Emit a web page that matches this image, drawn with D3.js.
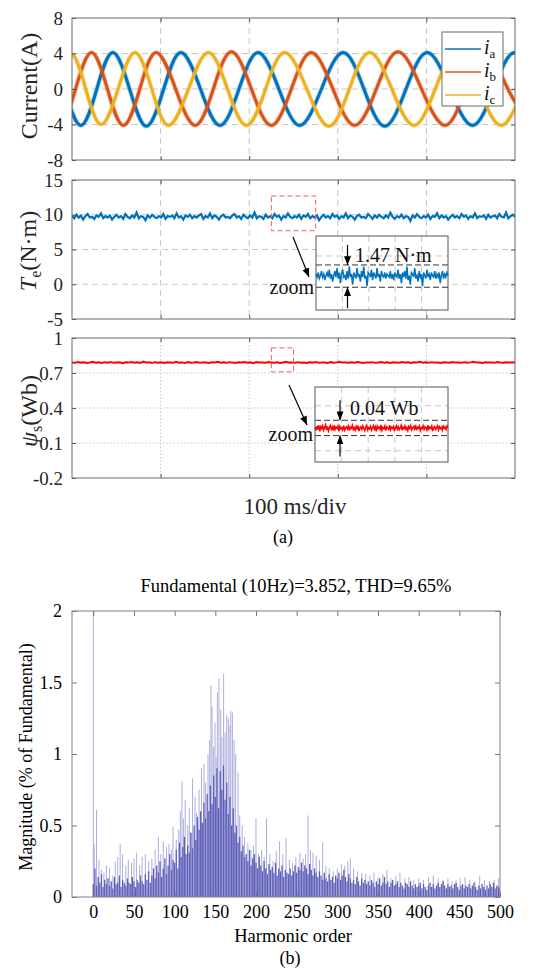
<!DOCTYPE html>
<html><head><meta charset="utf-8">
<script src="https://cdn.jsdelivr.net/npm/d3@7"></script>
<style>body{margin:0;background:#fff} svg{display:block}</style>
</head><body>
<svg id="c" width="552" height="970"></svg>
<script>
// ================= DATA =================
const timeGridTicks = [100, 200, 300, 400];
const currentTicks = [8, 4, 0, -4, -8];
const torqueTicks = [15, 10, 5, 0, -5];
const fluxTicks = [1, 0.7, 0.4, 0.1, -0.2];

// phase currents: [time ms] and [value A] read at extrema and zero crossings
const iaTimes = [-64, -45.5, -27, -8.5, 10, 28, 46, 65, 84, 103.5, 123, 145, 167, 188.5, 210, 233.5, 257, 281.5, 306, 329.5, 353, 377, 401, 426.5, 452, 476, 500, 524, 548];
const iaValues = [-4, 0, 4, 0, -4.1, 0, 4.1, 0, -4.2, 0, 4.1, 0, -4.1, 0, 4.1, 0, -4.1, 0, 4.1, 0, -4.2, 0, 4.1, 0, -4.1, 0, 4.1, 0, -4];
const ibTimes = [-50, -32, -14, 4, 22, 40, 58, 76.5, 95, 117, 139, 159.5, 180, 202.5, 225, 247.5, 270, 294.5, 319, 343.5, 368, 394.5, 421, 444, 467, 492, 517];
const ibValues = [4, 0, -4, 0, 4.1, 0, -4.1, 0, 4.1, 0, -4.1, 0, 4.2, 0, -4.1, 0, 4.1, 0, -4.1, 0, 4.2, 0, -4.1, 0, 4.1, 0, -4];
const icTimes = [-40, -21, -2, 15.5, 33, 52, 71, 90, 109, 131.5, 154, 175.5, 197, 218.5, 240, 265, 290, 313, 336, 361, 386, 410, 434, 459.5, 485, 510, 535];
const icValues = [-4, 0, 4, 0, -4, 0, 4.1, 0, -4.1, 0, 4.1, 0, -4.1, 0, 4.1, 0, -4.2, 0, 4.1, 0, -4.1, 0, 4.1, 0, -4.1, 0, 4];
const legendLabels = ["a", "b", "c"];
const phaseColors = ["#0072BD", "#D95319", "#EDB120"];

// electromagnetic torque (N·m), sampled every 2.5 ms
const teValues = [
9.8,9.5,10.0,9.6,9.9,9.3,9.8,10.1,9.6,9.7, 9.4,9.9,9.7,10.2,9.5,9.8,9.6,9.9,9.3,9.7,
10.0,9.6,9.8,9.4,10.1,9.7,9.5,9.9,9.6,10.3, 9.5,9.8,9.7,9.2,9.9,9.6,10.0,9.7,9.5,9.8,
9.6,10.1,9.4,9.8,9.7,9.9,9.5,10.2,9.6,9.8, 9.3,9.9,9.7,10.0,9.5,9.8,9.6,9.9,10.1,9.4,
9.8,9.6,10.2,9.5,9.9,9.7,9.3,9.8,10.0,9.6, 9.7,9.5,9.9,10.1,9.6,9.8,9.4,10.0,9.7,9.5,
9.9,9.6,10.3,9.5,9.8,9.7,9.4,10.0,9.6,9.8, 9.5,10.1,9.7,9.9,9.3,9.8,9.6,10.2,9.7,9.5,
9.8,9.6,10.0,9.4,9.9,9.7,10.1,9.5,9.8,9.6, 9.9,9.2,9.7,10.0,9.6,9.8,9.5,10.1,9.7,9.9,
9.4,9.8,9.6,10.2,9.5,9.9,9.7,9.3,9.8,10.0, 9.6,9.7,9.5,10.1,9.8,9.4,9.9,9.6,10.0,9.7,
9.5,9.9,9.6,10.3,9.7,9.4,9.8,9.6,10.0,9.5, 9.8,9.7,9.1,9.9,9.6,10.1,9.7,9.5,9.8,9.6,
10.0,9.4,9.8,9.7,10.2,9.5,9.9,9.6,9.8,9.3, 9.7,10.0,9.6,9.8,9.5,10.1,9.7,9.9,9.4,9.8,
9.6,10.2,9.5,9.8,9.7,9.9,9.4,10.0,9.6,9.8, 9.9,9.5,10.1,9.7,9.6,10.3,9.5,9.8,10.0,9.7];
const teSamplePeriod = 500 / (teValues.length - 1);

// stator flux (Wb), sampled
const psiValues = [
0.791,0.787,0.794,0.789,0.792,0.785,0.790,0.796,0.788,0.791, 0.786,0.793,0.789,0.795,0.787,0.790,0.792,0.784,0.791,0.789,
0.794,0.788,0.791,0.786,0.797,0.789,0.790,0.787,0.793,0.788, 0.791,0.785,0.792,0.790,0.787,0.796,0.789,0.791,0.786,0.793,
0.788,0.790,0.794,0.787,0.791,0.789,0.785,0.792,0.790,0.796, 0.788,0.791,0.787,0.793,0.789,0.786,0.792,0.790,0.795,0.788,
0.791,0.784,0.793,0.789,0.790,0.787,0.794,0.791,0.788,0.792, 0.786,0.790,0.796,0.789,0.791,0.787,0.793,0.788,0.790,0.785,
0.792,0.789,0.795,0.787,0.791,0.790,0.786,0.793,0.788,0.791, 0.797,0.789,0.790,0.787,0.792,0.788,0.794,0.790,0.786,0.791,
0.789,0.793,0.787,0.790,0.795,0.788,0.791,0.786,0.792,0.790, 0.788,0.794,0.789,0.791,0.785,0.792,0.790,0.796,0.788,0.791,
0.787,0.793,0.789,0.790,0.786,0.792,0.791,0.788,0.795,0.789, 0.790,0.787,0.793,0.788,0.791,0.796,0.789,0.790,0.786,0.792,
0.789,0.791,0.787,0.794,0.790,0.788,0.792,0.789,0.791,0.790];
const psiSamplePeriod = 500 / (psiValues.length - 1);

// zoomed windows (ms from, ms to, value low, value high)
const teWindow = [225, 275, 7.7, 12.7];
const psiWindow = [225, 250, 0.71, 0.915];

// zoomed torque detail
const teZoomValues = [
10.1,9.9,10.2,9.8,10.0,10.3,9.9,10.1,9.7,10.0, 10.2,9.9,10.4,9.8,10.1,9.6,10.0,10.3,9.9,10.5,
9.8,10.2,9.5,10.1,10.4,9.9,10.0,9.7,10.3,9.8, 10.6,9.9,10.1,9.4,10.2,10.0,9.8,10.5,9.9,10.1,
9.6,10.3,9.9,10.6,9.8,10.0,9.3,10.2,10.1,9.9, 10.4,9.7,10.2,10.0,9.8,10.5,9.9,10.1,9.6,10.3,
10.0,9.9,10.2,9.8,10.1,10.0,9.9,10.3,9.8,10.1, 9.7,10.2,10.0,9.9,10.4,9.8,10.1,9.5,10.2,9.9,
10.3,9.8,10.6,9.7,10.0,9.4,10.2,10.1,9.9,10.5, 9.8,10.0,9.6,10.3,9.9,10.1,9.3,10.2,10.0,9.8,
10.4,9.9,10.1,9.7,10.2,10.0,9.9,10.3,9.8,10.1, 9.9,10.2,9.5,10.0,10.3,9.8,10.1,9.9,10.2,10.0];
const teRipple = [9.23, 10.7];
const teRippleLabel = "1.47 N·m";

// zoomed flux detail
const psiZoomValues = [
0.792,0.783,0.795,0.786,0.797,0.781,0.793,0.788,0.796,0.784, 0.791,0.798,0.785,0.794,0.782,0.790,0.796,0.787,0.793,0.783,
0.797,0.786,0.792,0.789,0.795,0.781,0.794,0.788,0.791,0.785, 0.796,0.784,0.790,0.793,0.787,0.795,0.783,0.792,0.789,0.797,
0.786,0.791,0.784,0.794,0.788,0.796,0.782,0.790,0.793,0.786, 0.795,0.789,0.783,0.792,0.797,0.785,0.791,0.788,0.794,0.784,
0.790,0.796,0.787,0.793,0.781,0.795,0.789,0.792,0.786,0.798, 0.784,0.791,0.788,0.795,0.783,0.793,0.790,0.786,0.797,0.785,
0.792,0.789,0.794,0.782,0.791,0.796,0.787,0.793,0.785,0.790, 0.797,0.784,0.792,0.788,0.795,0.786,0.791,0.783,0.794,0.789,
0.796,0.785,0.790,0.793,0.787,0.798,0.784,0.792,0.789,0.795, 0.783,0.791,0.788,0.796,0.786,0.793,0.790,0.784,0.797,0.787,
0.792,0.789,0.795,0.782,0.791,0.794,0.786,0.790,0.796,0.785, 0.793,0.788,0.791,0.784,0.797,0.789,0.792,0.786,0.795,0.790];
const psiRipple = [0.77, 0.81];
const psiRippleLabel = "0.04 Wb";

// ---- panel (b): harmonic spectrum ----
const harmTicks = [0, 50, 100, 150, 200, 250, 300, 350, 400, 450, 500];
const magTicks = [0, 0.5, 1, 1.5, 2];
const harmStep = 2; // dense magnitudes every 2 orders starting at order 0
const harmDense = [
0.09,0.2,0.08,0.14,0.1,0.16,0.07,0.12,0.09,0.13,
0.08,0.11,0.06,0.14,0.09,0.1,0.15,0.07,0.12,0.1,
0.08,0.13,0.1,0.09,0.14,0.11,0.07,0.12,0.1,0.15,
0.11,0.09,0.16,0.12,0.18,0.1,0.15,0.2,0.13,0.22,
0.17,0.25,0.14,0.2,0.27,0.16,0.22,0.3,0.19,0.26,
0.24,0.33,0.2,0.38,0.28,0.35,0.42,0.3,0.36,0.31,
0.45,0.34,0.5,0.4,0.56,0.47,0.6,0.52,0.66,0.55,
0.72,0.6,0.78,0.65,0.85,0.7,0.9,0.62,0.88,0.75,
0.92,0.68,0.8,0.58,0.7,0.5,0.62,0.45,0.5,0.38,
0.42,0.32,0.36,0.28,0.3,0.25,0.33,0.22,0.27,0.3,
0.24,0.2,0.28,0.22,0.18,0.25,0.2,0.16,0.23,0.19,
0.21,0.17,0.24,0.15,0.2,0.18,0.22,0.14,0.19,0.17,
0.16,0.2,0.15,0.18,0.22,0.17,0.21,0.19,0.24,0.18,
0.22,0.2,0.16,0.23,0.19,0.15,0.2,0.17,0.14,0.18,
0.15,0.12,0.17,0.13,0.11,0.16,0.12,0.14,0.1,0.15,
0.13,0.17,0.12,0.15,0.19,0.14,0.11,0.16,0.13,0.1,
0.12,0.09,0.14,0.11,0.08,0.13,0.1,0.12,0.09,0.11,
0.08,0.12,0.1,0.07,0.11,0.09,0.13,0.08,0.1,0.14,
0.09,0.11,0.07,0.1,0.12,0.08,0.09,0.11,0.07,0.1,
0.08,0.06,0.1,0.09,0.07,0.11,0.08,0.06,0.09,0.07,
0.08,0.1,0.06,0.09,0.07,0.05,0.08,0.1,0.07,0.09,
0.06,0.08,0.1,0.07,0.09,0.11,0.08,0.06,0.09,0.07,
0.08,0.06,0.09,0.1,0.07,0.05,0.08,0.09,0.06,0.08,
0.07,0.09,0.06,0.08,0.1,0.07,0.05,0.08,0.06,0.09,
0.07,0.05,0.08,0.06,0.09,0.07,0.1,0.06,0.08,0.07,
0.06];
// tall individual harmonics [order, % of fundamental]
const harmSpikes = [
[0,100],[1,0.37],[4,0.61],[7,0.26],[10,0.19],[13,0.17],[16,0.22],[20,0.2],[24,0.15],[27,0.25],[30,0.28],[33,0.37],[36,0.3],[40,0.22],[43,0.26],[47,0.24],
[50,0.27],[53,0.31],[57,0.22],[60,0.28],[64,0.3],[68,0.25],[72,0.27],[76,0.33],[80,0.42],[83,0.3],[86,0.39],[90,0.35],[93,0.37],[96,0.33],[98,0.49],
[102,0.4],[105,0.47],[107,0.6],[109,0.81],[111,0.55],[113,0.68],[116,0.5],[118,0.62],[120,0.45],[122,0.83],[125,0.7],[127,0.59],[130,0.75],[133,0.9],[136,0.93],[138,0.8],
[141,1.0],[143,1.1],[144.7,1.48],[146,1.33],[148,1.05],[149.6,1.22],[151,0.98],[152.5,1.43],[154.5,1.53],[156.6,1.31],[158,1.12],[160.2,1.56],[162,1.15],[164,1.27],[166,1.25],[168,1.2],[169,1.3],[171,1.29],[173,1.1],[175,1.0],[178,0.87],[180,0.57],
[183,0.5],[186,0.42],[190,0.38],[194,0.33],[197,0.36],[200,0.55],[203,0.3],[207,0.33],[210,0.28],[213,0.55],[217,0.3],[221,0.25],[225,0.32],[229,0.39],[233,0.3],[237,0.41],[241,0.26],[245,0.24],[249,0.28],[254,0.31],[258,0.27],[261,0.3],[264,0.57],[267,0.33],[270,0.31],[274,0.29],[278,0.26],[282,0.38],[286,0.22],[290,0.2],[295,0.18],
[300,0.2],[305,0.23],[309,0.22],[313,0.25],[316,0.27],[320,0.2],[325,0.18],[330,0.17],[335,0.16],[340,0.15],[345,0.17],[350,0.14],[356,0.16],[361,0.19],[366,0.13],[372,0.15],[377,0.17],[383,0.13],[388,0.14],[394,0.12],[400,0.13],[406,0.12],[412,0.14],[418,0.15],[424,0.13],[430,0.12],[436,0.13],[441,0.11],[446,0.12],[451,0.13],[457,0.14],[463,0.12],[469,0.11],[475,0.15],[481,0.12],[487,0.11],[493,0.12],[498,0.13]];
const spectrumTitle = "Fundamental (10Hz)=3.852, THD=9.65%";

// ================= DRAW =================
const FONT = '"Liberation Serif","Times New Roman",serif';
const svg = d3.select('#c').style('font-family', FONT);
const defs = svg.append('defs');
defs.append('marker').attr('id','ah').attr('viewBox','0 0 10 8').attr('refX',10).attr('refY',4)
  .attr('markerWidth',9).attr('markerHeight',7).attr('markerUnits','userSpaceOnUse').attr('orient','auto')
  .append('path').attr('d','M0,0L10,4L0,8z').attr('fill','#000');

const X0 = 72, X1 = 515;
const xT = d3.scaleLinear().domain([0, 500]).range([X0, X1]);
let clipN = 0;

function timePanel(y0, y1, domain, ticks, gridVals, dash) {
  const y = d3.scaleLinear().domain(domain).range([y1, y0]);
  const g = svg.append('g');
  const gridColor = '#c6c6c6';
  g.selectAll('line.vg').data(timeGridTicks).join('line')
    .attr('x1', d => xT(d)).attr('x2', d => xT(d)).attr('y1', y0).attr('y2', y1)
    .attr('stroke', gridColor).attr('stroke-width', 1).attr('stroke-dasharray', dash);
  g.selectAll('line.hg').data(gridVals).join('line')
    .attr('x1', X0).attr('x2', X1).attr('y1', d => y(d)).attr('y2', d => y(d))
    .attr('stroke', gridColor).attr('stroke-width', 1).attr('stroke-dasharray', dash);
  const id = 'clip' + (clipN++);
  defs.append('clipPath').attr('id', id).append('rect')
    .attr('x', X0).attr('y', y0).attr('width', X1 - X0).attr('height', y1 - y0);
  const data = g.append('g').attr('clip-path', `url(#${id})`);
  const styleAxis = a => { a.select('.domain').remove(); a.selectAll('.tick line').attr('stroke', '#555'); };
  g.append('g').attr('transform', `translate(${X0},0)`)
    .call(d3.axisLeft(y).tickValues(ticks).tickSize(-4).tickPadding(9).tickFormat(d => String(d)))
    .call(styleAxis)
    .call(a => a.selectAll('text').attr('font-family', FONT).attr('font-size', 19).attr('fill', '#262626'));
  g.append('g').attr('transform', `translate(${X1},0)`)
    .call(d3.axisRight(y).tickValues(ticks).tickSize(-4).tickFormat('')).call(styleAxis);
  g.append('g').attr('transform', `translate(0,${y1})`)
    .call(d3.axisBottom(xT).tickValues(timeGridTicks).tickSize(-4).tickFormat('')).call(styleAxis);
  g.append('g').attr('transform', `translate(0,${y0})`)
    .call(d3.axisTop(xT).tickValues(timeGridTicks).tickSize(-4).tickFormat('')).call(styleAxis);
  g.append('rect').attr('x', X0).attr('y', y0).attr('width', X1 - X0).attr('height', y1 - y0)
    .attr('fill', 'none').attr('stroke', '#6b6b6b').attr('stroke-width', 1);
  return { g, y, data };
}

// ---- panel 1: currents ----
const p1 = timePanel(18, 160, [-8, 8], currentTicks, [4, 0, -4], '6,4');
const curLine = d3.line().x(d => xT(d[0])).y(d => p1.y(d[1])).curve(d3.curveNatural);
const phases = [[iaTimes, iaValues], [ibTimes, ibValues], [icTimes, icValues]];
phases.forEach(([ts, vs], k) => {
  const pts = ts.map((t, i) => [t, vs[i]]);
  p1.data.append('path').attr('d', curLine(pts)).attr('fill', 'none')
    .attr('stroke', phaseColors[k]).attr('stroke-width', 4.6).attr('stroke-opacity', 0.35);
  p1.data.append('path').attr('d', curLine(pts)).attr('fill', 'none')
    .attr('stroke', phaseColors[k]).attr('stroke-width', 3);
});
// legend
const lg = svg.append('g');
lg.append('rect').attr('x', 442).attr('y', 32).attr('width', 61).attr('height', 74)
  .attr('fill', '#fff').attr('stroke', '#6b6b6b').attr('stroke-width', 1);
legendLabels.forEach((s, k) => {
  const yy = 49 + k * 23;
  lg.append('line').attr('x1', 445).attr('x2', 481).attr('y1', yy).attr('y2', yy)
    .attr('stroke', phaseColors[k]).attr('stroke-width', 1.6);
  const t = lg.append('text').attr('x', 484).attr('y', yy + 5).attr('font-size', 20).attr('fill', '#111');
  t.append('tspan').attr('font-style', 'italic').text('i');
  t.append('tspan').attr('font-size', 13).attr('dy', 4).text(s);
});
svg.append('text').attr('transform', 'translate(37,86) rotate(-90)').attr('text-anchor', 'middle')
  .attr('font-size', 24).attr('fill', '#262626').text('Current(A)');

// ---- panel 2: torque ----
const p2 = timePanel(180, 319, [-5, 15], torqueTicks, [10, 5, 0], '6,4');
const teLine = d3.line().x((d, i) => xT(i * teSamplePeriod)).y(d => p2.y(d));
p2.data.append('path').attr('d', teLine(teValues)).attr('fill', 'none')
  .attr('stroke', '#0072BD').attr('stroke-width', 2.2);
{
  const t = svg.append('text').attr('transform', 'translate(36,251) rotate(-90)').attr('text-anchor', 'middle')
    .attr('font-size', 24).attr('fill', '#262626');
  t.append('tspan').attr('font-style', 'italic').text('T');
  t.append('tspan').attr('font-size', 16).attr('dy', 5).text('e');
  t.append('tspan').attr('dy', -5).text('(N·m)');
}
svg.append('rect').attr('x', xT(teWindow[0])).attr('y', p2.y(teWindow[3]))
  .attr('width', xT(teWindow[1]) - xT(teWindow[0])).attr('height', p2.y(teWindow[2]) - p2.y(teWindow[3]))
  .attr('fill', 'none').attr('stroke', '#ff5a5a').attr('stroke-width', 1).attr('stroke-dasharray', '5,3');

// ---- panel 3: flux ----
const p3 = timePanel(338, 478, [-0.2, 1], fluxTicks, [0.7, 0.4, 0.1], '1.5,2');
const psiLine = d3.line().x((d, i) => xT(i * psiSamplePeriod)).y(d => p3.y(d));
p3.data.append('path').attr('d', psiLine(psiValues)).attr('fill', 'none')
  .attr('stroke', '#ff0000').attr('stroke-width', 2);
{
  const t = svg.append('text').attr('transform', 'translate(37,411) rotate(-90)').attr('text-anchor', 'middle')
    .attr('font-size', 24).attr('fill', '#262626');
  t.append('tspan').attr('font-style', 'italic').text('ψ');
  t.append('tspan').attr('font-size', 16).attr('dy', 5).text('s');
  t.append('tspan').attr('dy', -5).text('(Wb)');
}
svg.append('rect').attr('x', xT(psiWindow[0])).attr('y', p3.y(psiWindow[3]))
  .attr('width', xT(psiWindow[1]) - xT(psiWindow[0])).attr('height', p3.y(psiWindow[2]) - p3.y(psiWindow[3]))
  .attr('fill', 'none').attr('stroke', '#ff5a5a').attr('stroke-width', 1).attr('stroke-dasharray', '5,3');

// ---- insets ----
function inset(bx0, by0, bx1, by1, yDom, values, color, ripple, grayFr, label, lx, ly, ax, zoomY, arrowFrom, arrowTo) {
  const g = svg.append('g');
  g.append('rect').attr('x', bx0).attr('y', by0).attr('width', bx1 - bx0).attr('height', by1 - by0).attr('fill', '#fff');
  const xi = d3.scaleLinear().domain([0, values.length - 1]).range([bx0, bx1]);
  const yi = d3.scaleLinear().domain(yDom).range([by1, by0]);
  [0.2, 0.4, 0.6, 0.8].forEach(f => g.append('line').attr('x1', bx0 + f * (bx1 - bx0)).attr('x2', bx0 + f * (bx1 - bx0))
    .attr('y1', by0).attr('y2', by1).attr('stroke', '#c6c6c6').attr('stroke-dasharray', '6,4'));
  grayFr.forEach(f => g.append('line').attr('x1', bx0).attr('x2', bx1).attr('y1', by0 + f * (by1 - by0)).attr('y2', by0 + f * (by1 - by0))
    .attr('stroke', '#c6c6c6').attr('stroke-dasharray', '6,4'));
  g.append('path').attr('d', d3.line().x((d, i) => xi(i)).y(d => yi(d))(values))
    .attr('fill', 'none').attr('stroke', color).attr('stroke-width', 1.5);
  ripple.forEach(v => g.append('line').attr('x1', bx0).attr('x2', bx1).attr('y1', yi(v)).attr('y2', yi(v))
    .attr('stroke', '#333').attr('stroke-width', 1).attr('stroke-dasharray', '6,3'));
  g.append('rect').attr('x', bx0).attr('y', by0).attr('width', bx1 - bx0).attr('height', by1 - by0)
    .attr('fill', 'none').attr('stroke', '#555').attr('stroke-width', 1);
  g.append('line').attr('x1', ax).attr('x2', ax).attr('y1', yi(ripple[1]) - 20).attr('y2', yi(ripple[1]))
    .attr('stroke', '#000').attr('stroke-width', 1.2).attr('marker-end', 'url(#ah)');
  g.append('line').attr('x1', ax).attr('x2', ax).attr('y1', yi(ripple[0]) + 21).attr('y2', yi(ripple[0]))
    .attr('stroke', '#000').attr('stroke-width', 1.2).attr('marker-end', 'url(#ah)');
  g.append('text').attr('x', lx).attr('y', ly).attr('font-size', 20).attr('fill', '#111').text(label);
  g.append('text').attr('x', bx0 - 2).attr('y', zoomY).attr('text-anchor', 'end').attr('font-size', 20).attr('fill', '#111').text('zoom');
  svg.append('line').attr('x1', arrowFrom[0]).attr('y1', arrowFrom[1]).attr('x2', arrowTo[0]).attr('y2', arrowTo[1])
    .attr('stroke', '#000').attr('stroke-width', 1.2).attr('marker-end', 'url(#ah)');
}
inset(316, 236, 448, 310, [7.73, 12.61], teZoomValues, '#0072BD', teRipple, [0.27],
  teRippleLabel, 355, 262, 347.5, 294, [293, 237], [309, 277]);
inset(315, 387, 448, 462, [0.701, 0.897], psiZoomValues, '#ff0000', psiRipple, [0.25, 0.85],
  psiRippleLabel, 350, 415, 340, 441, [289, 385], [307, 425]);

svg.append('text').attr('x', 295).attr('y', 514).attr('text-anchor', 'middle').attr('font-size', 23)
  .attr('fill', '#262626').text('100 ms/div');
svg.append('text').attr('x', 283).attr('y', 543).attr('text-anchor', 'middle').attr('font-size', 18)
  .attr('fill', '#000').text('(a)');

// ================= SPECTRUM =================
const HX0 = 72, HX1 = 500, HY0 = 611, HY1 = 897;
const xH = d3.scaleLinear().domain([-26.2, 500]).range([HX0, HX1]);
const yH = d3.scaleLinear().domain([0, 2]).range([HY1, HY0]);
defs.append('clipPath').attr('id', 'hclip').append('rect')
  .attr('x', HX0).attr('y', HY0).attr('width', HX1 - HX0).attr('height', HY1 - HY0);
const hg = svg.append('g').attr('clip-path', 'url(#hclip)');
hg.selectAll('rect.sp').data(harmSpikes).join('rect')
  .attr('x', d => xH(d[0]) - 0.5).attr('width', 1)
  .attr('y', d => yH(Math.min(d[1], 2.2))).attr('height', d => HY1 - yH(Math.min(d[1], 2.2)))
  .attr('fill', '#adadde');
hg.selectAll('rect.dn').data(harmDense).join('rect')
  .attr('x', (d, i) => xH(i * harmStep) - 0.65).attr('width', 1.3)
  .attr('y', d => yH(d)).attr('height', d => HY1 - yH(d))
  .attr('fill', '#5f5fb9');
const hStyle = a => { a.select('.domain').remove(); a.selectAll('.tick line').attr('stroke', '#777'); };
svg.append('g').attr('transform', `translate(${HX0},0)`)
  .call(d3.axisLeft(yH).tickValues(magTicks).tickSize(-5).tickPadding(10).tickFormat(d => String(d)))
  .call(hStyle).call(a => a.selectAll('text').attr('font-family', FONT).attr('font-size', 18).attr('fill', '#000'));
svg.append('g').attr('transform', `translate(${HX1},0)`)
  .call(d3.axisRight(yH).tickValues(magTicks).tickSize(-5).tickFormat('')).call(hStyle);
svg.append('g').attr('transform', `translate(0,${HY1})`)
  .call(d3.axisBottom(xH).tickValues(harmTicks).tickSize(-5).tickPadding(8).tickFormat(d => String(d)))
  .call(hStyle).call(a => a.selectAll('text').attr('font-family', FONT).attr('font-size', 18).attr('fill', '#000'));
svg.append('g').attr('transform', `translate(0,${HY0})`)
  .call(d3.axisTop(xH).tickValues(harmTicks).tickSize(-5).tickFormat('')).call(hStyle);
svg.append('rect').attr('x', HX0).attr('y', HY0).attr('width', HX1 - HX0).attr('height', HY1 - HY0)
  .attr('fill', 'none').attr('stroke', '#808080').attr('stroke-width', 1);
svg.append('text').attr('x', 296).attr('y', 592).attr('text-anchor', 'middle').attr('font-size', 18.5)
  .attr('fill', '#000').text(spectrumTitle);
svg.append('text').attr('x', 293).attr('y', 942).attr('text-anchor', 'middle').attr('font-size', 18.5)
  .attr('fill', '#000').text('Harmonic order');
svg.append('text').attr('x', 290).attr('y', 964).attr('text-anchor', 'middle').attr('font-size', 18)
  .attr('fill', '#000').text('(b)');
svg.append('text').attr('transform', 'translate(32,757) rotate(-90)').attr('text-anchor', 'middle')
  .attr('font-size', 18).attr('fill', '#000').text('Magnitude (% of Fundamental)');
</script>
</body></html>
